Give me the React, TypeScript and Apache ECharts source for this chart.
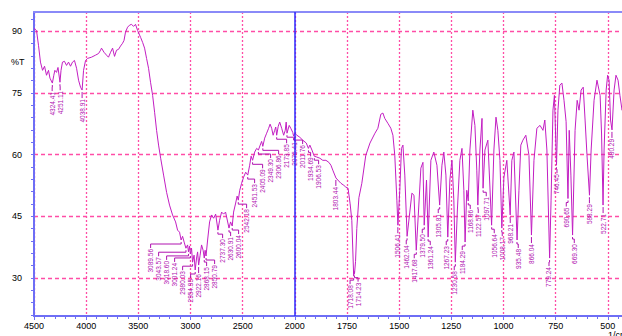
import React, { useEffect, useRef } from "react";
import * as echarts from "echarts";

// Spectrum (wavenumber in 1/cm, transmittance in %T)
const wavenumbers = [
  4500, 4476, 4457, 4438, 4418, 4399, 4380, 4361, 4347, 4324, 4310, 4300, 4284, 4270, 4251, 4241, 4227, 4208, 4188, 4169,
  4150, 4131, 4112, 4092, 4073, 4054, 4039, 4025, 4006, 3987, 3949, 3910, 3881, 3862, 3853, 3829, 3805, 3786, 3766, 3747,
  3728, 3709, 3690, 3671, 3651, 3637, 3623, 3603, 3584, 3565, 3546, 3527, 3507, 3478, 3459, 3440, 3421, 3402, 3383, 3363,
  3344, 3325, 3306, 3286, 3258, 3229, 3201, 3172, 3143, 3124, 3105, 3090, 3076, 3061, 3044, 3028, 3019, 3009, 3001, 2990,
  2980, 2966, 2955, 2942, 2932, 2922, 2908, 2894, 2879, 2868, 2860, 2851, 2836, 2817, 2798, 2778, 2759, 2737, 2721, 2702,
  2683, 2664, 2631, 2616, 2600, 2587, 2567, 2553, 2542, 2528, 2510, 2491, 2471, 2451, 2433, 2419, 2405, 2385, 2366, 2349,
  2332, 2318, 2307, 2289, 2270, 2251, 2237, 2222, 2208, 2193, 2183, 2174, 2159, 2145, 2126, 2107, 2092, 2083, 2075, 2054,
  2039, 2020, 2012, 2000, 1990, 1976, 1962, 1945, 1935, 1928, 1918, 1907, 1895, 1880, 1866, 1851, 1837, 1827, 1818, 1803,
  1794, 1779, 1765, 1756, 1745, 1735, 1727, 1718, 1716, 1714, 1709, 1703, 1693, 1679, 1660, 1640, 1616, 1602, 1588, 1578,
  1569, 1554, 1540, 1530, 1521, 1511, 1506, 1497, 1489, 1482, 1473, 1462, 1449, 1439, 1429, 1418, 1407, 1396, 1386, 1380,
  1369, 1361, 1348, 1334, 1319, 1306, 1295, 1286, 1276, 1267, 1257, 1247, 1238, 1231, 1221, 1209, 1199, 1190, 1184, 1176,
  1169, 1161, 1147, 1137, 1128, 1123, 1113, 1103, 1098, 1089, 1075, 1057, 1046, 1036, 1027, 1017, 1008, 998, 984, 968,
  960, 950, 935, 926, 917, 907, 893, 878, 866, 854, 840, 825, 811, 802, 792, 779, 772, 763, 756, 746,
  739, 730, 720, 710, 700, 691, 685, 677, 669, 657, 647, 638, 628, 618, 609, 600, 588, 580, 566, 552,
  537, 530, 523, 518, 508, 501, 494, 487, 480, 470, 461, 451, 442, 432, 420, 410,
];
const transmittance = [
  90.7, 90.2, 86.6, 82.5, 80.5, 81.5, 79.3, 80.5, 78.6, 77.4, 79.3, 80.5, 80.0, 81.2, 77.6, 80.5, 82.5, 82.7, 81.7, 82.5,
  81.5, 82.5, 82.9, 81.0, 78.1, 76.4, 75.7, 80.5, 82.9, 83.4, 83.7, 84.2, 84.6, 85.4, 85.9, 84.9, 84.2, 83.7, 84.9, 85.9,
  83.9, 85.4, 85.6, 86.4, 87.1, 87.8, 89.8, 91.0, 91.5, 91.7, 91.2, 91.7, 90.2, 88.5, 87.3, 85.9, 83.4, 81.0, 77.6, 74.4,
  70.3, 65.9, 62.3, 59.1, 55.0, 50.8, 47.7, 45.3, 43.6, 41.6, 41.1, 39.2, 40.1, 38.7, 37.2, 38.0, 36.3, 37.7, 35.8, 37.2,
  33.8, 35.5, 31.9, 34.8, 36.3, 33.1, 35.5, 38.0, 36.7, 34.8, 36.7, 35.3, 39.2, 43.6, 45.3, 44.5, 45.5, 41.6, 44.0, 46.0,
  45.5, 46.0, 42.1, 43.6, 42.6, 46.0, 48.2, 49.9, 48.9, 51.3, 53.0, 54.5, 55.7, 55.0, 57.4, 59.6, 58.6, 60.6, 61.5, 61.1,
  62.3, 63.2, 62.0, 64.0, 65.2, 66.4, 67.4, 66.4, 64.7, 65.9, 66.7, 64.7, 66.9, 67.9, 66.4, 64.7, 65.9, 67.9, 65.2, 67.1,
  66.4, 65.4, 64.5, 65.2, 64.7, 64.2, 63.5, 62.8, 61.5, 62.3, 61.1, 59.6, 59.4, 59.1, 58.6, 58.6, 58.1, 57.4, 56.2, 54.3,
  53.8, 53.0, 52.5, 52.1, 51.8, 48.0, 44.0, 30.4, 31.6, 31.0, 34.0, 42.0, 49.5, 53.0, 59.8, 62.8, 65.2, 66.4, 69.8, 70.1,
  68.8, 67.6, 66.4, 64.7, 59.8, 48.9, 42.8, 51.3, 61.5, 62.3, 55.0, 40.1, 46.0, 50.6, 50.1, 36.7, 46.5, 56.7, 58.1, 42.8,
  53.8, 39.9, 58.6, 60.6, 57.4, 47.7, 57.4, 60.6, 55.0, 39.9, 53.8, 58.6, 48.9, 33.8, 46.5, 58.6, 61.5, 51.3, 38.7, 51.3,
  48.7, 61.1, 70.8, 67.1, 56.2, 47.7, 61.1, 68.8, 51.8, 61.1, 63.5, 42.8, 61.1, 69.1, 65.9, 58.6, 42.1, 54.5, 58.6, 45.3,
  58.6, 60.6, 39.2, 51.3, 62.3, 63.5, 64.7, 59.8, 40.4, 58.6, 66.4, 67.1, 65.9, 68.4, 61.1, 34.8, 48.9, 70.8, 74.4, 57.4,
  70.8, 76.9, 77.4, 73.2, 68.0, 49.3, 65.9, 55.0, 40.4, 65.9, 73.2, 70.8, 75.7, 76.4, 68.4, 60.0, 50.1, 61.1, 73.2, 78.1,
  74.4, 65.0, 47.7, 61.1, 75.7, 79.3, 78.1, 68.4, 66.0, 75.7, 79.3, 78.1, 74.4, 70.8, 72.0, 70.0,
];

// Labelled peaks (1/cm)
const peakWavenumbers = [
  4324.41, 4251.11, 4038.91, 3089.56, 3043.57, 3018.6, 3001.24, 2980.03, 2954.95, 2922.16, 2868.15, 2850.79,
  2737.3, 2630.91, 2600.04, 2542.18, 2451.53, 2405.09, 2349.3, 2306.86, 2173.85, 2075.41, 2011.76, 1934.69,
  1906.53, 1803.44, 1718.08, 1714.23, 1506.41, 1462.04, 1417.68, 1379.5, 1361.24, 1305.81, 1267.23, 1230.58,
  1184.29, 1168.86, 1122.57, 1097.71, 1056.64, 1008.17, 968.21, 935.48, 866.04, 779.24, 746.45, 690.65,
  669.3, 588.29, 522.71, 480.29,
];

const yTickLabels = [30, 45, 60, 75, 90];
const yMinorTicks = [21, 24, 27, 30, 33, 36, 39, 42, 45, 48, 51, 54, 57, 60, 63, 66, 69, 72, 75, 78, 81, 84, 87, 90, 93];
const xTickLabels = [4500, 4000, 3500, 3000, 2500, 2000, 1750, 1500, 1250, 1000, 750, 500];

// scale change at 2000 1/cm: below it, 250 1/cm take the room of 500
const toT = (w: number) => (w >= 2000 ? w : 2000 - (2000 - w) * 2);
const fromT = (t: number) => (t >= 2000 ? t : 2000 - (2000 - t) / 2);

const valueAt = (w: number) => {
  let best = 0;
  for (let i = 1; i < wavenumbers.length; i++) {
    if (Math.abs(wavenumbers[i] - w) < Math.abs(wavenumbers[best] - w)) best = i;
  }
  return transmittance[best];
};

const FONT = "'Liberation Sans', Arial, sans-serif";
const AXIS_BLUE = "#6e6ef5";
const GRID_PINK = "#ff4da6";
const CURVE = "#c21ec2";
const LABEL = "#b012b0";

export default function App() {
  const ref = useRef<HTMLDivElement>(null);

  useEffect(() => {
    if (!ref.current) return;
    const chart = echarts.init(ref.current, null, { renderer: "svg" });
    const lineData = wavenumbers.map((w, i) => [toT(w), transmittance[i]]);

    const renderPeaks = (params: any, api: any) => {
      const pts = peakWavenumbers
        .map((w) => {
          const c = api.coord([toT(w), valueAt(w)]);
          return { x: c[0], y: c[1], w };
        })
        .sort((a, b) => a.x - b.x);
      const GAP = 8;
      const groups = pts.map((p) => ({ items: [p], sum: p.x }));
      const start = (g: any) => g.sum / g.items.length - ((g.items.length - 1) * GAP) / 2;
      let merged = true;
      while (merged) {
        merged = false;
        for (let k = 0; k < groups.length - 1; k++) {
          const a = groups[k];
          const b = groups[k + 1];
          const aEnd = start(a) + (a.items.length - 1) * GAP;
          if (start(b) - aEnd < GAP) {
            a.items = a.items.concat(b.items);
            a.sum += b.sum;
            groups.splice(k + 1, 1);
            merged = true;
            break;
          }
        }
      }
      const children: any[] = [];
      groups.forEach((g) => {
        const s = start(g);
        g.items.forEach((p, k) => {
          const lx = s + k * GAP;
          children.push({
            type: "polyline",
            shape: {
              points: [
                [p.x, p.y + 2],
                [p.x, p.y + 4],
                [lx, p.y + 4],
                [lx, p.y + 8],
              ],
            },
            style: { stroke: LABEL, fill: "none", lineWidth: 1 },
          });
          children.push({
            type: "text",
            x: lx,
            y: p.y + 9,
            rotation: Math.PI / 2,
            style: {
              text: p.w.toFixed(2),
              fill: LABEL,
              fontSize: 6.5,
              fontFamily: FONT,
              align: "right",
              verticalAlign: "middle",
            },
          });
        });
      });
      return { type: "group", children };
    };

    chart.setOption({
      animation: false,
      grid: { left: 34, right: 0, top: 12, bottom: 20 },
      xAxis: [
        {
          type: "value",
          min: -1500,
          max: 4500,
          interval: 500,
          inverse: true,
          position: "bottom",
          axisLine: { show: true, onZero: false, lineStyle: { color: AXIS_BLUE, width: 2 } },
          axisTick: { show: true, length: 4, lineStyle: { color: AXIS_BLUE } },
          minorTick: { show: true, splitNumber: 5, length: 3, lineStyle: { color: AXIS_BLUE } },
          axisLabel: {
            customValues: xTickLabels.map(toT),
            formatter: (v: number) => String(Math.round(fromT(v))),
            color: "#000",
            fontSize: 9,
            fontFamily: FONT,
            margin: 5,
          },
          splitLine: { show: true, lineStyle: { color: GRID_PINK, type: [2, 2], width: 1.3 } },
        },
        {
          type: "value",
          min: -1500,
          max: 4500,
          interval: 500,
          inverse: true,
          position: "top",
          axisLine: { show: true, onZero: false, lineStyle: { color: "#8a8af8", width: 2 } },
          axisTick: { show: false },
          axisLabel: { show: false },
          splitLine: { show: false },
        },
      ],
      yAxis: [
        {
          type: "value",
          min: 20.7,
          max: 94.7,
          position: "left",
          axisLine: { show: true, onZero: false, lineStyle: { color: AXIS_BLUE, width: 2 } },
          axisTick: { show: true, length: 3, customValues: yMinorTicks, lineStyle: { color: AXIS_BLUE } },
          axisLabel: {
            customValues: yTickLabels,
            color: "#000",
            fontSize: 9,
            fontFamily: FONT,
            margin: 12,
          },
          splitLine: { show: false },
        },
        {
          type: "value",
          min: 20.7,
          max: 94.7,
          position: "right",
          axisLine: { show: false, onZero: false },
          axisTick: { show: false, customValues: yTickLabels },
          axisLabel: { show: false, customValues: yTickLabels },
          splitLine: { show: true, lineStyle: { color: GRID_PINK, type: [4, 3], width: 1.3 } },
        },
      ],
      graphic: [
        { type: "text", left: 11, top: 57, style: { text: "%T", fill: "#000", fontSize: 9, fontFamily: FONT } },
        { type: "text", left: 608, top: 330, style: { text: "1/cm", fill: "#000", fontSize: 9, fontFamily: FONT } },
      ],
      series: [
        {
          type: "line",
          data: lineData,
          xAxisIndex: 0,
          yAxisIndex: 0,
          showSymbol: false,
          symbol: "none",
          lineStyle: { color: CURVE, width: 1 },
          silent: true,
          z: 3,
          markLine: {
            silent: true,
            symbol: "none",
            label: { show: false },
            lineStyle: { color: "#2a2aff", width: 1.5, type: "solid" },
            data: [{ xAxis: toT(2000) }],
          },
        },
        {
          type: "custom",
          xAxisIndex: 0,
          yAxisIndex: 0,
          silent: true,
          clip: false,
          z: 4,
          data: [[toT(peakWavenumbers[0]), valueAt(peakWavenumbers[0])]],
          renderItem: renderPeaks,
        },
      ],
    });
    return () => chart.dispose();
  }, []);

  return (
    <div style={{ position: "fixed", left: 0, top: 0, width: 622, height: 336, overflow: "hidden", background: "#fff" }}>
      <div ref={ref} style={{ width: 660, height: 336 }} />
    </div>
  );
}
